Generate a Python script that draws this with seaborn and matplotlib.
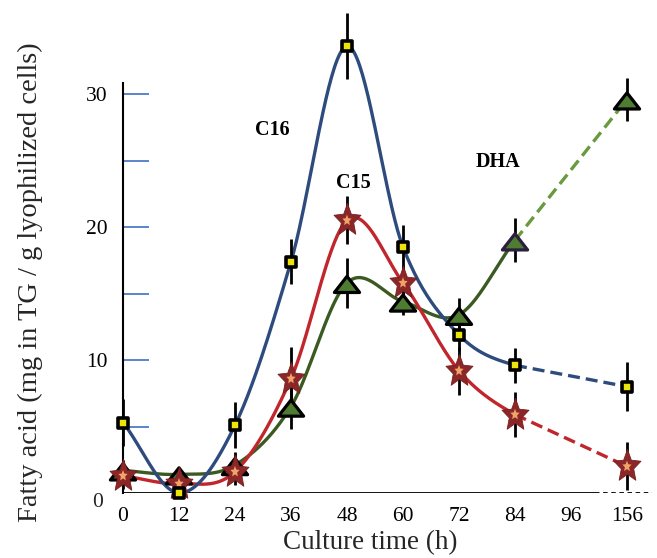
import numpy as np
import pandas as pd
import matplotlib
matplotlib.use("Agg")
import matplotlib.pyplot as plt
import seaborn as sns
from matplotlib.path import Path

# ---------------- data ----------------
hours = ["0", "12", "24", "36", "48", "60", "72", "84", "96", "156"]
sample_hours = ["0", "12", "24", "36", "48", "60", "72", "84", "156"]
c16 = [5.3, 0.0, 5.1, 17.4, 33.6, 18.5, 11.9, 9.6, 8.0]
c16_err = [1.8, 0.0, 1.75, 1.7, 2.5, 1.65, 1.2, 1.3, 1.85]
c15 = [1.3, 0.7, 1.6, 8.6, 20.5, 15.8, 9.2, 5.9, 2.0]
c15_err = [1.0, 0.8, 1.0, 2.4, 1.8, 1.2, 1.8, 1.7, 1.8]
dha = [1.7, 1.4, 2.1, 6.5, 15.8, 14.4, 13.4, 19.0, 29.6]
dha_err = [0.8, 0.5, 1.0, 1.7, 1.85, 1.0, 1.3, 1.65, 1.6]
y_ticks = [10, 20, 30]
y_minor = [5, 15, 25]
series_labels = ["C16", "C15", "DHA"]

# ---------------- style ----------------
sns.set_theme(style="white")
plt.rcParams["font.family"] = ["Liberation Serif", "DejaVu Serif"]

BLUE = "#2E4B7E"
RED = "#C0262B"
GREEN = "#3A5A22"
GREEN_DASH = "#6A9A40"
TICK_BLUE = "#4F7BC8"

fig = plt.figure(figsize=(6.57, 5.58), dpi=100)
ax = fig.add_axes([123 / 657, 65 / 558, 532 / 657, 492 / 558])
ax.set_xlim(0, 9.5)
ax.set_ylim(0, 37)

pos = np.array([hours.index(h) for h in sample_hours], dtype=float)


def hermite_curve(xs, ys, n=40):
    xs = np.asarray(xs, float)
    ys = np.asarray(ys, float)
    m = np.empty_like(ys)
    m[1:-1] = (ys[2:] - ys[:-2]) / (xs[2:] - xs[:-2])
    m[0] = (ys[1] - ys[0]) / (xs[1] - xs[0])
    m[-1] = (ys[-1] - ys[-2]) / (xs[-1] - xs[-2])
    ox, oy = [], []
    for i in range(len(xs) - 1):
        h = xs[i + 1] - xs[i]
        t = np.linspace(0, 1, n, endpoint=False)
        h00 = 2 * t**3 - 3 * t**2 + 1
        h10 = t**3 - 2 * t**2 + t
        h01 = -2 * t**3 + 3 * t**2
        h11 = t**3 - t**2
        ox.append(xs[i] + t * h)
        oy.append(h00 * ys[i] + h10 * h * m[i] + h01 * ys[i + 1] + h11 * h * m[i + 1])
    ox.append([xs[-1]])
    oy.append([ys[-1]])
    return np.concatenate(ox), np.concatenate(oy)


def draw_series(vals, errs, color, dash_color):
    cx, cy = hermite_curve(pos, vals)
    keep = cx <= pos[-2] + 1e-9
    df = pd.DataFrame({"x": cx[keep], "y": cy[keep]})
    sns.lineplot(data=df, x="x", y="y", sort=False, estimator=None, color=color,
                 lw=2.4, ax=ax, legend=False, zorder=2)
    dd = pd.DataFrame({"x": pos[-2:], "y": vals[-2:]})
    sns.lineplot(data=dd, x="x", y="y", sort=False, estimator=None, color=dash_color,
                 lw=2.4, linestyle=(0, (3.6, 1.8)), ax=ax, legend=False, zorder=2)
    ax.errorbar(pos, vals, yerr=errs, fmt="none", ecolor="black", elinewidth=2.0,
                capsize=0, zorder=3, clip_on=False)


draw_series(dha, dha_err, GREEN, GREEN_DASH)
draw_series(c15, c15_err, RED, RED)
draw_series(c16, c16_err, BLUE, BLUE)

# markers
tri = Path([(0, 0.52), (-1, -0.76), (1, -0.76), (0, 0.52)],
           [Path.MOVETO, Path.LINETO, Path.LINETO, Path.CLOSEPOLY])
ang = np.pi / 2 + np.arange(10) * np.pi / 5
rad = np.where(np.arange(10) % 2 == 0, 1.0, 0.46)
star_v = np.column_stack([rad * np.cos(ang), 1.2 * rad * np.sin(ang)])
star = Path(np.vstack([star_v, star_v[:1]]),
            [Path.MOVETO] + [Path.LINETO] * 9 + [Path.CLOSEPOLY])

mdf = pd.DataFrame({"x": pos, "c16": c16, "c15": c15, "dha": dha})
tri_edges = ["black"] * len(pos)
tri_edges[sample_hours.index("84")] = "#2B1E3E"
sns.scatterplot(data=mdf, x="x", y="dha", marker=tri, s=330, color="#4E7D32",
                edgecolor=tri_edges, linewidth=2.3, ax=ax, legend=False, zorder=4,
                clip_on=False)
sns.scatterplot(data=mdf, x="x", y="c15", marker=star, s=600, color="#8B2728",
                edgecolor="#7A1E1E", linewidth=0.6, ax=ax, legend=False, zorder=5,
                clip_on=False)
sns.scatterplot(data=mdf, x="x", y="c15", marker=star, s=70, color="#F2A468",
                edgecolor="none", linewidth=0, ax=ax, legend=False, zorder=5.5,
                clip_on=False)
sns.scatterplot(data=mdf, x="x", y="c16", marker="s", s=60, color="#EDE40A",
                edgecolor="black", linewidth=2.6, ax=ax, legend=False, zorder=6,
                clip_on=False)

# series labels
lab_font = dict(fontsize=14.5, fontweight="bold", ha="center", va="center", color="black")
ax.text(2.66, 27.3, series_labels[0], **lab_font)
ax.text(4.11, 23.3, series_labels[1], **lab_font)
ax.text(6.70, 24.9, series_labels[2], **lab_font)

# axes
for s in ["top", "right", "bottom"]:
    ax.spines[s].set_visible(False)
ax.spines["left"].set_color("black")
ax.spines["left"].set_linewidth(1.5)
ax.spines["left"].set_bounds(0, 30.8)
ax.axhline(0, xmin=0, xmax=8.43 / 9.5, color="black", lw=1.3, zorder=1.5)
ax.axhline(0, xmin=8.43 / 9.5, xmax=9.45 / 9.5, color="black", lw=1.3,
           linestyle=(0, (2.5, 2.0)), zorder=1.5)

ax.set_xticks(range(len(hours)))
ax.set_xticklabels(hours)
ax.set_xticks([2, 3, 4, 5, 6, 7, 8], minor=True)
ax.tick_params(axis="x", which="major", length=0, pad=10, labelsize=15.5, colors="black")
ax.tick_params(axis="x", which="minor", direction="in", length=10, width=1.2,
               color=TICK_BLUE, bottom=True)

ax.set_yticks(y_ticks)
ax.set_yticklabels([str(v) for v in y_ticks])
ax.set_yticks(y_minor, minor=True)
ax.tick_params(axis="y", which="major", direction="in", length=19, width=1.3,
               color=TICK_BLUE, pad=11, labelsize=15.5, labelcolor="black", left=True)
ax.tick_params(axis="y", which="minor", direction="in", length=19, width=1.3,
               color=TICK_BLUE, left=True)
ax.text(-0.46, -0.75, "0", fontsize=15.5, ha="center", va="center", clip_on=False)

ax.set_xlabel("")
ax.set_ylabel("")
fig.text(30 / 657, 1 - 282 / 558, "Fatty acid (mg in TG / g lyophilized cells)",
         rotation=90, ha="center", va="center", fontsize=20.5)
fig.text(370 / 657, 1 - 543 / 558, "Culture time (h)", ha="center", va="center",
         fontsize=19.5)

fig.savefig("out.png", dpi=100)
